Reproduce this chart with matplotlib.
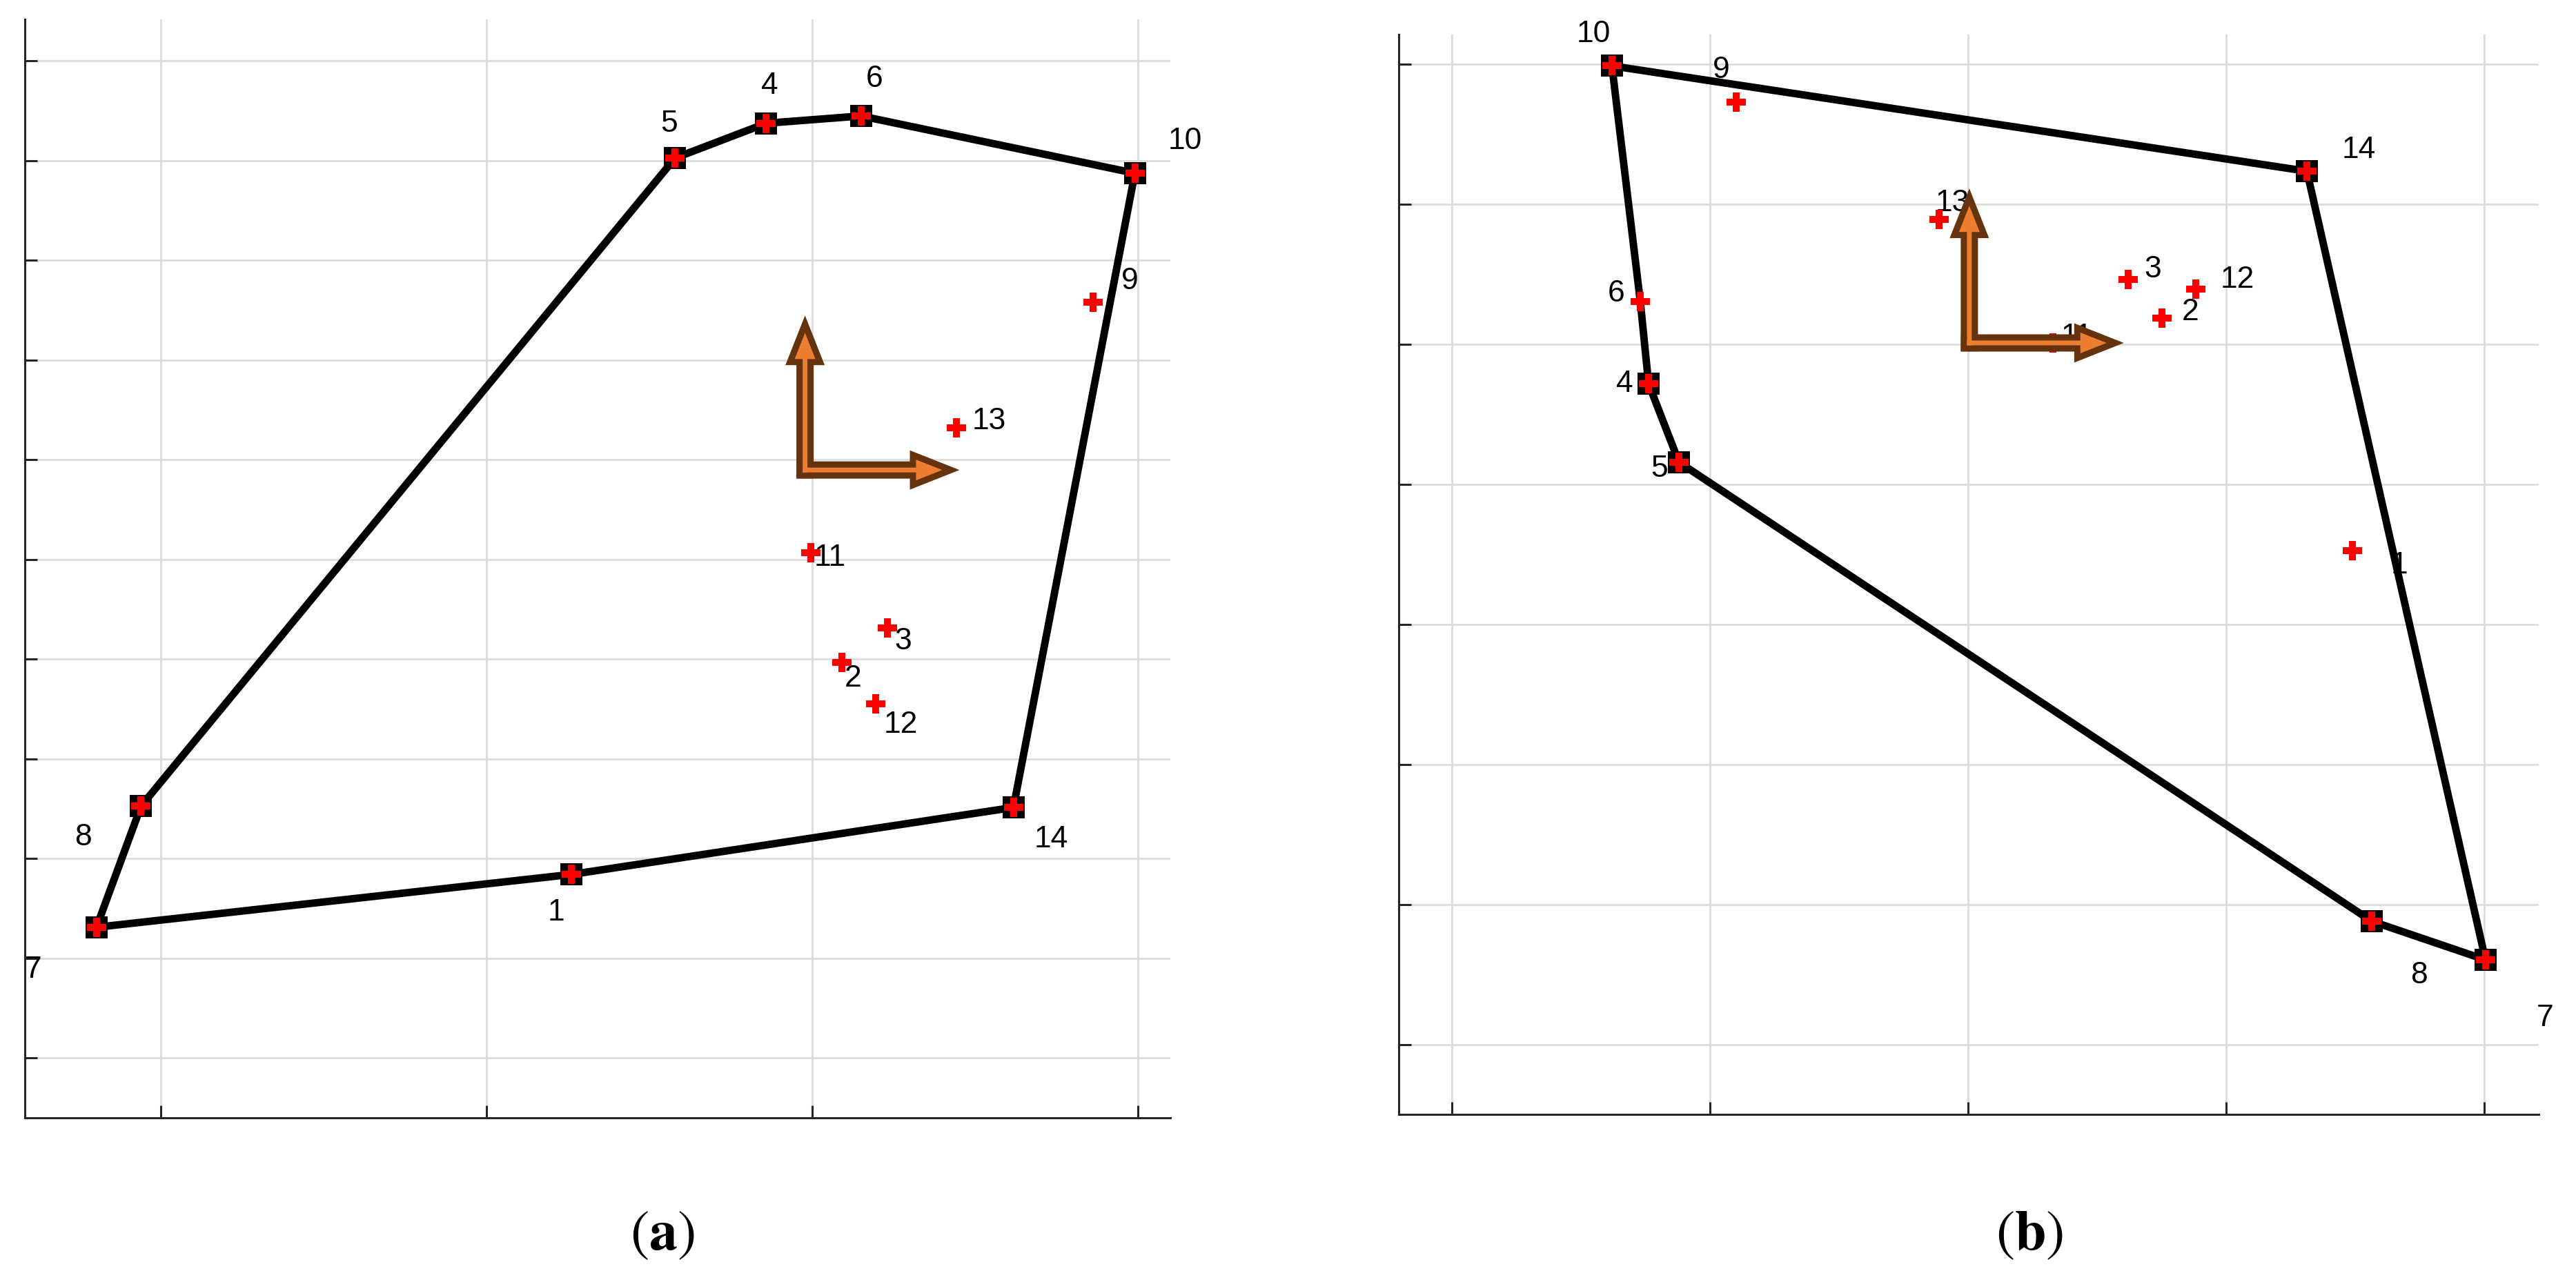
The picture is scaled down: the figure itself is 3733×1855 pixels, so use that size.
import matplotlib
matplotlib.use('Agg')
import matplotlib.pyplot as plt
from matplotlib.transforms import offset_copy


# panel (a): points in grid units, hull order, frame origin
a_ids = [1, 2, 3, 4, 5, 6, 7, 8, 9, 10, 11, 12, 13, 14]
a_x = [1.261, 2.092, 2.230, 1.859, 1.579, 2.150, -0.198, -0.061, 2.862, 2.991, 1.995, 2.196, 2.444, 2.618]
a_y = [1.841, 3.965, 4.311, 9.373, 9.024, 9.446, 1.311, 2.526, 7.581, 8.872, 5.066, 3.550, 6.318, 2.512]
a_hull = [7, 8, 5, 4, 6, 10, 14, 1, 7]
a_frame = (1.978, 5.896)

# panel (b)
b_ids = [1, 2, 3, 4, 5, 6, 7, 8, 9, 10, 11, 12, 13, 14]
b_x = [3.489, 2.751, 2.620, 0.762, 0.880, 0.730, 4.005, 3.564, 1.102, 0.620, 2.329, 2.882, 1.888, 3.313]
b_y = [3.527, 5.187, 5.463, 4.719, 4.158, 5.305, 0.606, 0.882, 6.729, 6.988, 5.010, 5.394, 5.892, 6.236]
b_hull = [10, 14, 7, 8, 5, 4, 6, 10]
b_frame = (2.005, 5.010)

# label offsets (points) for each id
a_offsets = {1: (-7.9, -19.8), 2: (5.8, -8.3), 3: (8.3, -6.8), 4: (1.8, 19.4), 5: (-3.2, 18.0),
             6: (6.8, 19.4), 7: (-33.1, -22.3), 8: (-30.2, -16.2), 9: (19.4, 10.8), 10: (26.3, 16.9),
             11: (10.1, -2.5), 12: (13.0, -10.8), 13: (16.9, 3.6), 14: (19.8, -16.6)}
b_offsets = {1: (24.5, -7.6), 2: (14.8, 3.2), 3: (13.0, 5.4), 4: (-12.6, 0.0), 5: (-10.4, -3.6),
             6: (-12.6, 4.0), 7: (31.0, -30.6), 8: (24.8, -28.1), 9: (-7.9, 16.6), 10: (-9.4, 16.6),
             11: (12.6, 3.2), 12: (21.6, 5.0), 13: (6.8, 8.3), 14: (27.0, 11.2)}

DPI = 200
ORANGE = '#ED7D31'
BROWN = '#66330F'


def draw_frame(fig, ax, origin, length=80.6):
    ox, oy = origin
    layers = [
        # outer brown shape, then orange inside it
        (BROWN, 4.4, 0.0, 'simple,head_length=25.9,head_width=20.5,tail_width=9.0'),
        (ORANGE, 1.3, 9.0, 'simple,head_length=13.7,head_width=10.8,tail_width=2.5'),
    ]
    for color, back, tip_cut, style in layers:
        for dx, dy in ((0, 1), (1, 0)):
            tip = offset_copy(ax.transData, fig=fig, x=dx * (length - tip_cut), y=dy * (length - tip_cut), units='points')
            start = offset_copy(ax.transData, fig=fig, x=-dx * back, y=-dy * back, units='points')
            ax.annotate('', xy=(ox, oy), xycoords=tip, xytext=(ox, oy), textcoords=start,
                        arrowprops=dict(arrowstyle=style, mutation_scale=1, fc=color, ec=color,
                                        lw=0, shrinkA=0, shrinkB=0), zorder=7)


def draw_panel(fig, ax, ids, xs, ys, hull, offsets, frame, squares):
    pos = {i: (x, y) for i, x, y in zip(ids, xs, ys)}
    hx = [pos[i][0] for i in hull]
    hy = [pos[i][1] for i in hull]
    ax.plot(hx, hy, color='k', lw=3.9, zorder=4)
    sq = sorted(set(squares))
    ax.plot([pos[i][0] for i in sq], [pos[i][1] for i in sq], 's', color='k', ms=11.8, mew=0, zorder=5)
    ax.plot(xs, ys, 'P', color='#ff0000', ms=10, mew=0, zorder=6)
    for i in ids:
        ax.annotate(str(i), pos[i], xytext=offsets[i], textcoords='offset points',
                    ha='center', va='center', fontsize=16, family='Liberation Sans', zorder=3)
    draw_frame(fig, ax, frame)

    ax.grid(True, color='#dcdcdc', lw=1.0)
    ax.set_axisbelow(True)
    for s in ('top', 'right'):
        ax.spines[s].set_visible(False)
    for s in ('left', 'bottom'):
        ax.spines[s].set_color('#262626')
        ax.spines[s].set_linewidth(1.1)
    ax.tick_params(direction='in', length=6.5, width=1.1, color='#262626',
                   labelleft=False, labelbottom=False)


fig = plt.figure(figsize=(3733 / DPI, 1855 / DPI), dpi=DPI)

ax1 = fig.add_axes([0.00964, 0.1267, 0.4447, 0.8582])
ax1.set_xlim(-0.418, 3.10)
ax1.set_ylim(-0.60, 10.415)
ax1.set_xticks(range(4))
ax1.set_yticks(range(11))

ax2 = fig.add_axes([0.5430, 0.12938, 0.4425, 0.84367])
ax2.set_xlim(-0.206, 4.211)
ax2.set_ylim(-0.4975, 7.212)
ax2.set_xticks(range(5))
ax2.set_yticks(range(8))

draw_panel(fig, ax1, a_ids, a_x, a_y, a_hull, a_offsets, a_frame, a_hull)
draw_panel(fig, ax2, b_ids, b_x, b_y, b_hull, b_offsets, b_frame, [10, 14, 7, 8, 5, 4])

fig.text(0.2572, 0.0356, r'$(\mathbf{a})$', ha='center', va='center', fontsize=29.5, math_fontfamily='stix')
fig.text(0.7878, 0.0356, r'$(\mathbf{b})$', ha='center', va='center', fontsize=29.5, math_fontfamily='stix')

fig.savefig('out.png', dpi=DPI)
